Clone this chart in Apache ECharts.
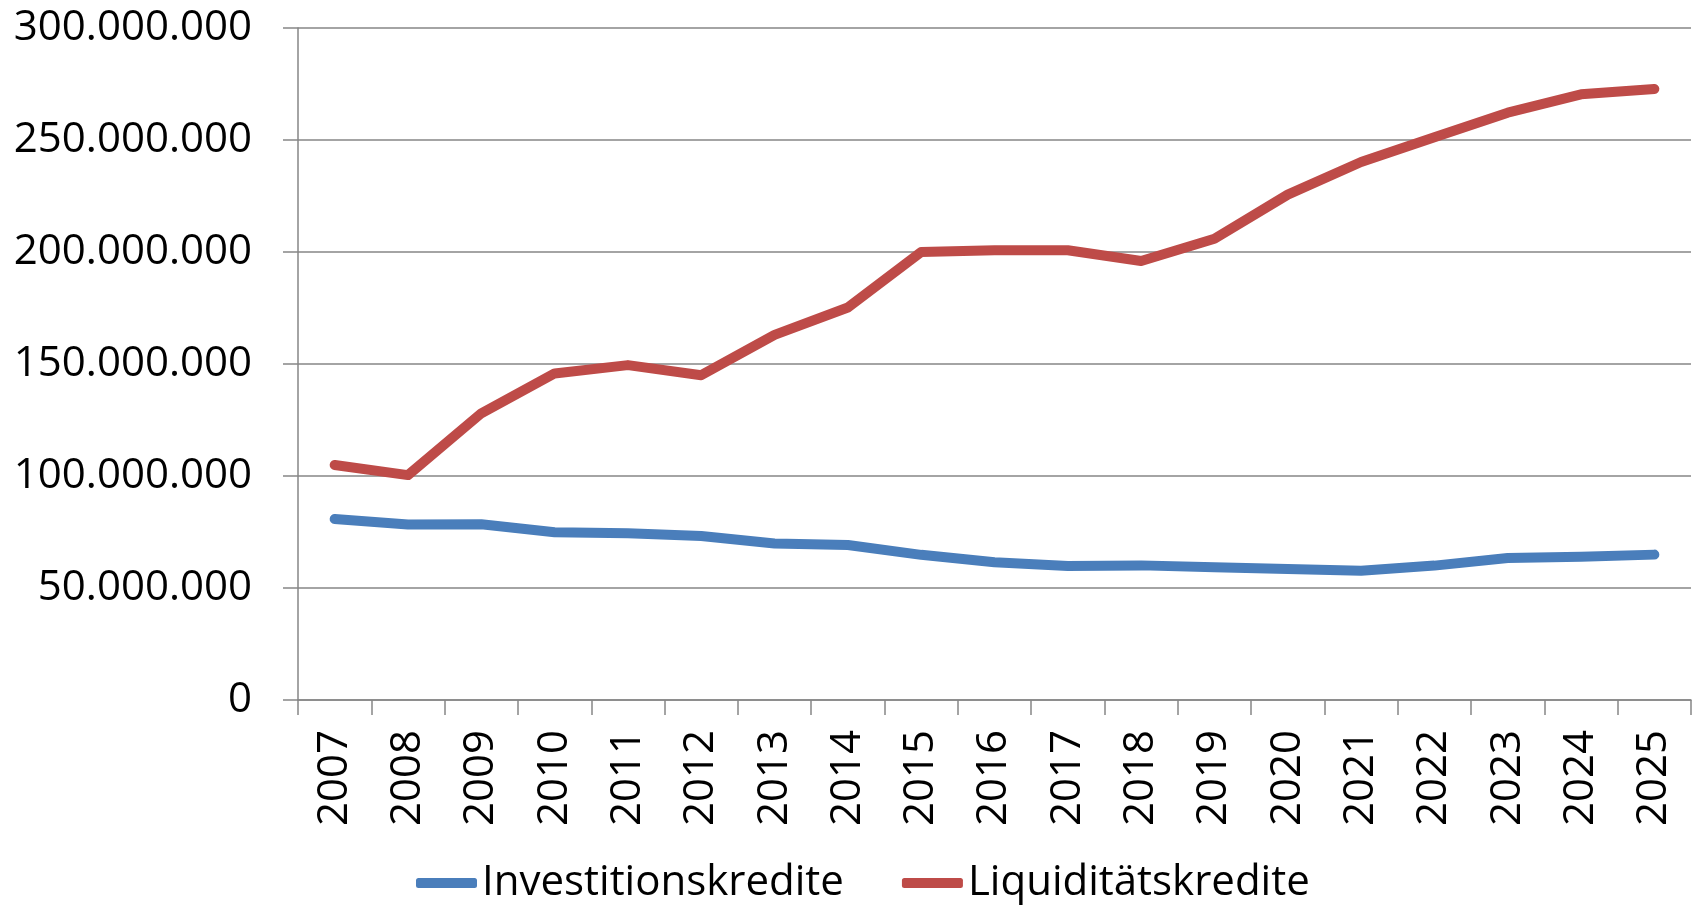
<!DOCTYPE html>
<html>
<head>
<meta charset="utf-8">
<script src="https://cdn.jsdelivr.net/npm/echarts@6/dist/echarts.min.js"></script>
<style>
html,body{margin:0;padding:0;background:#fff;}
#c{width:1696px;height:905px;}
</style>
</head>
<body>
<div id="c"></div>
<script>
const years = ['2007','2008','2009','2010','2011','2012','2013','2014','2015','2016','2017','2018','2019','2020','2021','2022','2023','2024','2025'];
const investitionskredite = [80800000,78300000,78500000,74900000,74400000,73200000,69900000,69200000,64800000,61500000,59800000,60100000,59300000,58500000,57700000,60000000,63400000,63900000,64900000];
const liquiditaetskredite = [104900000,100400000,128000000,145800000,149500000,145000000,163000000,175200000,200000000,200800000,200800000,196000000,205900000,225600000,240200000,251200000,262200000,270400000,272800000];
const seriesNames = ['Investitionskredite','Liquiditätskredite'];

function fmt(v){
  return String(Math.round(v)).replace(/\B(?=(\d{3})+(?!\d))/g,'.');
}
const FONT = '"Open Sans", "Noto Sans", sans-serif';
const chart = echarts.init(document.getElementById('c'));
chart.setOption({
  animation:false,
  backgroundColor:'#ffffff',
  textStyle:{fontFamily:FONT},
  grid:{left:298,right:5,top:28,bottom:205,containLabel:false},
  legend:{
    data:seriesNames,
    left:411,
    top:857,
    itemWidth:61,
    itemHeight:10,
    itemGap:58,
    icon:'roundRect',
    textStyle:{fontFamily:FONT,fontSize:42,color:'#000'}
  },
  xAxis:{
    type:'category',
    data:years,
    boundaryGap:true,
    axisLine:{lineStyle:{color:'#868686',width:1.5}},
    axisTick:{show:true,length:15,alignWithLabel:false,lineStyle:{color:'#868686',width:1.5}},
    axisLabel:{rotate:90,margin:30,fontSize:42,color:'#000',fontFamily:FONT,interval:0}
  },
  yAxis:{
    type:'value',
    min:0,max:300000000,interval:50000000,
    axisLine:{show:true,lineStyle:{color:'#868686',width:1.5}},
    axisTick:{show:true,length:15,lineStyle:{color:'#868686',width:1.5}},
    splitLine:{show:true,lineStyle:{color:'#868686',width:1.5}},
    axisLabel:{margin:46,fontSize:42,color:'#000',fontFamily:FONT,formatter:fmt}
  },
  series:[
    {name:seriesNames[0],type:'line',data:investitionskredite,showSymbol:false,symbol:'none',
     itemStyle:{color:'#4A7EBB'},lineStyle:{color:'#4A7EBB',width:10,cap:'round',join:'round'}},
    {name:seriesNames[1],type:'line',data:liquiditaetskredite,showSymbol:false,symbol:'none',
     itemStyle:{color:'#BE4B48'},lineStyle:{color:'#BE4B48',width:10,cap:'round',join:'round'}}
  ]
});
</script>
</body>
</html>
